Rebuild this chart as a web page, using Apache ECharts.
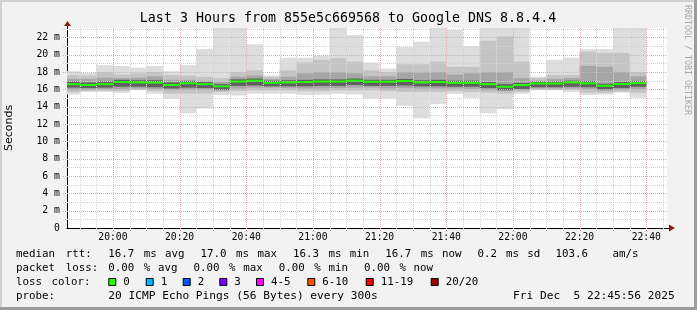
<!DOCTYPE html>
<html><head><meta charset="utf-8">
<script src="https://cdn.jsdelivr.net/npm/echarts@6/dist/echarts.min.js"></script>
<style>html,body{margin:0;padding:0;background:#f2f2f2}#c{width:697px;height:310px}</style>
</head><body><div id="c"></div>
<script>
// ---------------- DATA ----------------
const titleText = 'Last 3 Hours from 855e5c669568 to Google DNS 8.8.4.4';
const yAxisName = 'Seconds';
const barStarts = ['19:45','19:50','19:55','20:00','20:05','20:10','20:15','20:20','20:25','20:30',
  '20:35','20:40','20:45','20:50','20:55','21:00','21:05','21:10','21:15','21:20',
  '21:25','21:30','21:35','21:40','21:45','21:50','21:55','22:00','22:05','22:10',
  '22:15','22:20','22:25','22:30','22:35'];
const barMinutes = 5;
// smoke bands (ms), outermost to innermost
const pingMax = [18.1,17.9,18.8,18.7,18.5,18.7,18.1,18.8,20.65,24,24,21.2,17.6,19.65,19.65,19.9,24,22.27,19.1,18.4,20.9,21.5,24,22.85,21.0,24,24,24,17.46,19.4,19.65,20.65,20.65,24,24];
const band2Hi = [17.65,17.6,18.0,17.7,17.85,18.0,17.65,17.6,17.45,17.3,18.0,18.2,17.45,18.2,19.1,19.4,19.6,19.2,18.2,18.0,18.9,18.9,19.2,18.6,18.6,21.6,22.1,19.2,17.3,17.65,17.65,20.35,20.2,20.2,18.0];
const band3Hi = [17.2,17.2,17.35,17.3,17.35,17.5,17.1,17.1,17.0,16.85,17.45,17.6,17.2,17.45,17.85,18.0,18.0,17.85,17.5,17.5,18.0,17.95,18.0,17.7,17.85,18.0,18.0,17.3,17.0,17.2,17.3,18.7,18.6,18.0,17.5];
const band4Hi = [16.9,16.8,16.9,17.1,17.05,17.05,16.8,16.95,16.85,16.6,17.15,17.25,17.0,17.05,17.1,17.15,17.15,17.25,17.1,17.1,17.2,17.05,17.1,17.0,17.0,16.85,16.6,16.75,16.9,16.9,17.0,16.95,16.65,16.85,16.95];
const median  = [16.6,16.5,16.6,16.85,16.8,16.78,16.5,16.7,16.6,16.35,16.9,17.0,16.75,16.8,16.85,16.9,16.9,17.0,16.88,16.88,16.96,16.8,16.85,16.75,16.75,16.6,16.3,16.5,16.68,16.68,16.8,16.7,16.42,16.62,16.72];
const band4Lo = [16.2,16.15,16.2,16.3,16.3,16.25,16.1,16.2,16.15,15.95,16.4,16.45,16.35,16.35,16.35,16.4,16.4,16.5,16.4,16.4,16.45,16.35,16.35,16.3,16.3,16.15,15.9,16.05,16.25,16.25,16.3,16.25,16.0,16.15,16.3];
const band3Lo = [15.9,15.95,16.0,16.05,16.1,16.05,15.9,15.95,15.95,15.85,16.1,16.2,16.2,16.15,16.1,16.1,16.15,16.2,16.2,16.1,16.15,16.1,16.1,16.1,16.05,15.9,15.8,15.9,16.1,16.1,16.1,16.05,15.85,15.95,16.05];
const band2Lo = [15.65,15.8,15.85,15.8,15.95,15.8,15.5,15.5,15.5,15.7,15.8,15.9,15.9,15.9,15.8,15.8,15.9,15.9,15.9,15.8,15.7,15.7,15.7,15.8,15.7,15.6,15.5,15.7,16.0,15.95,15.95,15.6,15.6,15.7,15.6];
const pingMin = [15.4,15.7,15.7,15.6,15.9,15.5,14.9,13.25,13.8,15.35,15.3,15.5,15.5,15.5,15.35,15.4,15.5,15.4,14.96,14.96,14.1,12.66,14.3,15.5,15.04,13.23,13.7,15.5,15.9,15.9,15.7,15.35,15.4,15.65,15.04];
const xTickLabels = ['20:00','20:20','20:40','21:00','21:20','21:40','22:00','22:20','22:40'];
const yTickValues = [0,2,4,6,8,10,12,14,16,18,20,22];
const statLine1 = 'median rtt:  16.7 ms avg  17.0 ms max  16.3 ms min  16.7 ms now  0.2 ms sd  103.6   am/s';
const statLine2 = 'packet loss: 0.00 % avg  0.00 % max  0.00 % min  0.00 % now';
const lossTitle = 'loss color:';
const lossLabels = ['0','1','2','3','4-5','6-10','11-19','20/20'];
const lossColors = ['#26ff00','#00b8ff','#0059ff','#7e00ff','#ff00ff','#ff5500','#ff0000','#a00000'];
const probeLabel = 'probe:';
const probeText = '20 ICMP Echo Pings (56 Bytes) every 300s';
const dateText = 'Fri Dec  5 22:45:56 2025';
const watermark = 'RRDTOOL / TOBI OETIKER';

// ---------------- HELPERS ----------------
function toMin(s){const p=s.split(':');return (+p[0])*60+(+p[1]);}
const xMin = toMin('19:46') + 13/60, xMax = xMin + 180;
const yMin = 0, yMax = 23.08;
const MONO = '"DejaVu Sans Mono", monospace';

function clipTo(params, shape){
  const cs = params.coordSys;
  return echarts.graphic.clipRectByRect(shape, {x:cs.x,y:cs.y,width:cs.width,height:cs.height});
}
function bandSeries(lo, hi, color, z){
  return {
    type:'custom', z, silent:true, animation:false, clip:true,
    encode:{x:[0,1], y:[2,3]},
    data: barStarts.map((s,i)=>[toMin(s), toMin(s)+barMinutes, lo[i], hi[i]]),
    renderItem(params, api){
      const a = api.coord([api.value(0), api.value(3)]);
      const b = api.coord([api.value(1), api.value(2)]);
      const shape = clipTo(params, {x:a[0], y:a[1], width:b[0]-a[0], height:b[1]-a[1]});
      return shape && {type:'rect', shape, style:{fill:color}};
    }
  };
}
// grid lines (positions derived from axis scale)
const gridX = [], gridY = [];
for (let t = toMin('19:50'); t < xMax; t += 5) gridX.push([t, (t % 20 === 0) ? 1 : 0]);
for (let v = 1; v <= yMax; v += 1) gridY.push([v, (v % 2 === 0) ? 1 : 0]);

const series = [
  bandSeries(pingMin, pingMax, '#dddddd', 1),
  bandSeries(band2Lo, band2Hi, '#c4c4c4', 2),
  bandSeries(band3Lo, band3Hi, '#a6a6a6', 3),
  bandSeries(band4Lo, band4Hi, '#606060', 4),
  { type:'custom', z:5, silent:true, animation:false,
    encode:{x:0}, data: gridX,
    renderItem(params, api){
      const a = api.coord([api.value(0), yMin]);
      const b = api.coord([api.value(0), yMax]);
      const major = api.value(1) === 1;
      const x = Math.round(a[0]) + 0.5;
      return {type:'line', shape:{x1:x, y1:a[1]+3, x2:x, y2:b[1]},
        style:{stroke: major ? '#eaa8a8' : '#d2d2d2', lineWidth:1, lineDash:[1,1]}};
    }},
  { type:'custom', z:5, silent:true, animation:false,
    encode:{y:1}, data: gridY.map(d=>[xMin, d[0], d[1]]),
    renderItem(params, api){
      const a = api.coord([xMin, api.value(1)]);
      const b = api.coord([xMax, api.value(1)]);
      const major = api.value(2) === 1;
      const y = Math.round(a[1]) + 0.5;
      return {type:'line', shape:{x1:a[0]-4, y1:y, x2:b[0], y2:y},
        style:{stroke: major ? '#eaa8a8' : '#d2d2d2', lineWidth:1, lineDash:[1,1]}};
    }},
  { type:'custom', z:6, silent:true, animation:false, clip:true,
    encode:{x:[0,1], y:2},
    data: barStarts.map((s,i)=>[toMin(s), toMin(s)+barMinutes, median[i]]),
    renderItem(params, api){
      const a = api.coord([api.value(0), api.value(2)]);
      const b = api.coord([api.value(1), api.value(2)]);
      const shape = clipTo(params, {x:a[0], y:a[1]-1, width:b[0]-a[0], height:2});
      return shape && {type:'rect', shape, style:{fill:lossColors[0]}};
    }}
];

const chart = echarts.init(document.getElementById('c'), null, {renderer:'canvas'});
chart.setOption({
  backgroundColor:'#f2f2f2',
  animation:false,
  grid:{left:67, top:28, width:600, height:200, show:true, backgroundColor:'#ffffff', borderWidth:0,
    containLabel:false, outerBoundsMode:'none'},
  xAxis:{type:'value', min:xMin, max:xMax,
    axisLine:{show:true, lineStyle:{color:'#000', width:1}},
    axisTick:{show:false}, splitLine:{show:false},
    axisLabel:{customValues: xTickLabels.map(toMin), margin:4,
      formatter:v=>{const h=Math.floor(Math.round(v)/60), m=Math.round(v)%60; return String(h).padStart(2,'0')+':'+String(m).padStart(2,'0');},
      fontFamily:MONO, fontSize:9.7, color:'#000'}},
  yAxis:{type:'value', min:yMin, max:yMax,
    name:yAxisName, nameLocation:'middle', nameGap:52,
    nameTextStyle:{fontFamily:'"DejaVu Sans", sans-serif', fontSize:11, color:'#000'},
    axisLine:{show:true, lineStyle:{color:'#000', width:1}},
    axisTick:{show:false}, splitLine:{show:false},
    axisLabel:{customValues: yTickValues, margin:7,
      formatter:v=> v===0 ? '0' : v+' m', fontFamily:MONO, fontSize:9.8, color:'#000'}},
  series
});

// ---------------- TEXT / DECORATION ----------------
const CW = 7.1, X0 = 16, LFONT = '10.8px ' + MONO;
function placeWords(str, y, col0){
  const out = []; const re = /\S+/g; let m;
  while ((m = re.exec(str))) out.push({type:'text', x: X0 + (col0 + m.index)*CW, y, silent:true,
    style:{text:m[0], font:LFONT, fill:'#000', verticalAlign:'middle', align:'left'}});
  return out;
}
const o = chart.convertToPixel({gridIndex:0}, [xMin, yMin]);
const e = chart.convertToPixel({gridIndex:0}, [xMax, yMax]);
const arrowColor = '#8b1a1a';
const g = [
  // frame
  {type:'rect', shape:{x:0,y:0,width:697,height:2}, style:{fill:'#d0d0d0'}, silent:true},
  {type:'rect', shape:{x:0,y:0,width:2,height:310}, style:{fill:'#d0d0d0'}, silent:true},
  {type:'rect', shape:{x:0,y:307,width:697,height:3}, style:{fill:'#9c9c9c'}, silent:true},
  {type:'rect', shape:{x:694,y:0,width:3,height:310}, style:{fill:'#9c9c9c'}, silent:true},
  // axis extensions and arrows
  {type:'line', shape:{x1:Math.round(o[0])+0.5, y1:e[1], x2:Math.round(o[0])+0.5, y2:e[1]-4}, style:{stroke:'#000', lineWidth:1}, silent:true, z:10},
  {type:'line', shape:{x1:e[0], y1:Math.round(o[1])+0.5, x2:e[0]+3, y2:Math.round(o[1])+0.5}, style:{stroke:'#000', lineWidth:1}, silent:true, z:10},
  {type:'polygon', shape:{points:[[o[0]+0.5, e[1]-7],[o[0]-3, e[1]-2],[o[0]+4, e[1]-2]]}, style:{fill:arrowColor}, silent:true, z:10},
  {type:'polygon', shape:{points:[[e[0]+8, o[1]],[e[0]+2, o[1]-3.5],[e[0]+2, o[1]+3.5]]}, style:{fill:arrowColor}, silent:true, z:10},
  // title
  {type:'text', x:348, y:19, silent:true, style:{text:titleText, font:'13.3px '+MONO, fill:'#000', align:'center', verticalAlign:'middle'}},
  // watermark
  {type:'text', x:687, y:60, rotation:-Math.PI/2, silent:true, style:{text:watermark, font:'8.3px '+MONO, fill:'#a8a8a8', align:'center', verticalAlign:'middle'}}
];
g.push(...placeWords(statLine1, 254, 0));
g.push(...placeWords(statLine2, 268, 0));
g.push(...placeWords(lossTitle, 282, 0));
const lossBoxX = [108.3, 145.7, 182.7, 219.3, 256, 307.3, 365.7, 430.7];
lossLabels.forEach((lab, i) => {
  g.push({type:'rect', shape:{x:lossBoxX[i]+0.5, y:278.5, width:7, height:7}, style:{fill:lossColors[i], stroke:'#000', lineWidth:1}, silent:true});
  g.push({type:'text', x:lossBoxX[i]+15, y:282, silent:true, style:{text:lab, font:LFONT, fill:'#000', align:'left', verticalAlign:'middle'}});
});
g.push(...placeWords(probeLabel, 296, 0));
g.push({type:'text', x:X0 + 13*CW, y:296, silent:true, style:{text:probeText, font:'11.2px '+MONO, fill:'#000', align:'left', verticalAlign:'middle'}});
g.push({type:'text', x:X0 + 70*CW, y:296, silent:true, style:{text:dateText, font:'11.2px '+MONO, fill:'#000', align:'left', verticalAlign:'middle'}});
chart.setOption({graphic: g});
</script></body></html>
